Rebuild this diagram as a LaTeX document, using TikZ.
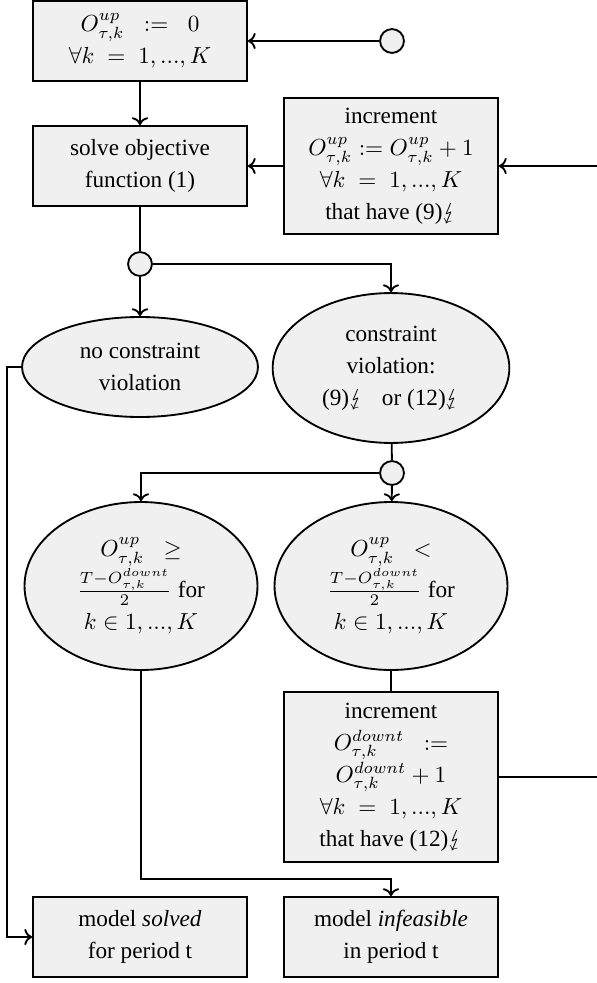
\documentclass[tikz,border=0pt]{standalone}
\usepackage{amsmath,amssymb}
\usepackage{stmaryrd}
\usepackage{fontspec}
\setmainfont{Liberation Serif}
\usepackage{tikz}
\usetikzlibrary{arrows.meta,shapes.geometric,calc}
\usepackage{xcolor}
\definecolor{boxgray}{RGB}{240,240,240}

\begin{document}
\begin{tikzpicture}[x=0.431pt, y=-0.431pt, line width=0.8pt,
    every node/.style={font=\fontsize{10}{13.8}\selectfont, align=center},
    flowbox/.style={draw, fill=boxgray, rectangle, minimum width=92.2pt, inner sep=1pt},
    flowell/.style={draw, fill=boxgray, ellipse, inner sep=0.5pt},
    joint/.style={draw, fill=boxgray, circle, minimum size=10.3pt, inner sep=0pt}]
        \useasboundingbox (0,0) rectangle (596,983);

        % start and first loop
        \node[joint] (start) at (392,41) {};
        \node[flowbox, minimum height=34.5pt] (init) at (140,41)
          {$O^{up}_{\tau,k}\;\; :=\;\; 0$\\ $\forall k\; =\; 1, ..., K$};
        \node[flowbox, minimum height=34.5pt] (solve) at (140,166)
          {solve objective\\ function (1)};
        \node[flowbox, minimum height=58.6pt] (incup) at (391,166)
          {increment\\ $O^{up}_{\tau,k} := O^{up}_{\tau,k} + 1$\\
           $\forall k\; =\; 1, ..., K$\\ that have (9)$\lightning$};
        \node[joint] (split1) at (140,264) {};

        % violation check
        \node[flowell, minimum width=101.7pt, minimum height=43.1pt] (noviol) at (140,367)
          {no constraint\\ violation};
        \node[flowell, minimum width=102pt, minimum height=64.6pt] (viol) at (391,368)
          {constraint\\ violation:\\ (9)$\lightning$\;\; or (12)$\lightning$};
        \node[joint] (split2) at (392,473) {};
        \node[flowell, minimum width=100.4pt, minimum height=72.4pt] (ellge) at (141,586)
          {$O^{up}_{\tau,k}\;\;\geq$\\ $\frac{T-O^{downt}_{\tau,k}}{2}$ for\\ $k\in 1, ..., K$};
        \node[flowell, minimum width=100.4pt, minimum height=72.4pt] (elllt) at (391,586)
          {$O^{up}_{\tau,k}\;\;<$\\ $\frac{T-O^{downt}_{\tau,k}}{2}$ for\\ $k\in 1, ..., K$};
        \node[flowbox, minimum height=73.3pt] (incdown) at (391,777)
          {increment\\ $O^{downt}_{\tau,k}\;\; :=$\\ $O^{downt}_{\tau,k} + 1$\\
           $\forall k\; =\; 1, ..., K$\\ that have (12)$\lightning$};

        % results
        \node[flowbox, minimum height=34.5pt] (solved) at (140,937)
          {model \textit{solved}\\ for period t};
        \node[flowbox, minimum height=34.5pt] (infeas) at (391,937)
          {model \textit{infeasible}\\ in period t};

        \coordinate (fbright) at (608,777);
        \coordinate (leftrail) at (7,367);
        \coordinate (mergept) at (391,879);

        \draw[->] (start) -- (init);
        \draw[->] (init) -- (solve);
        \draw[->] (incup) -- (solve);
        \draw (solve) -- (split1);
        \draw[->] (split1) -- (noviol);
        \draw[->] (split1) -| (viol);
        \draw (viol) -- (split2);
        \draw[->] (split2) -| (ellge);
        \draw[->] (split2) -- (elllt);
        \draw (elllt) -- (incdown);
        \draw[->] (incdown.east) -- (fbright) |- (incup.east);
        \draw[->] (ellge.south) |- (mergept) -- (infeas.north);
        \draw[->] (noviol.west) -- (leftrail) |- (solved.west);
      \end{tikzpicture}
\end{document}
